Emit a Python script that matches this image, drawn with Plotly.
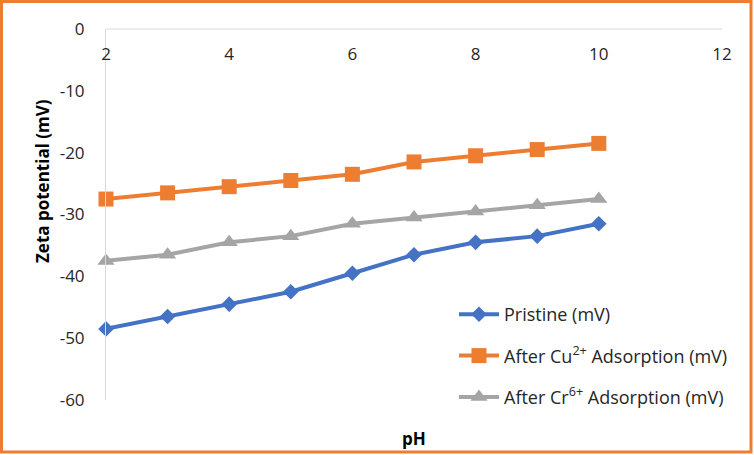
import plotly.graph_objects as go

ph = [2, 3, 4, 5, 6, 7, 8, 9, 10]
pristine = [-48.5, -46.5, -44.5, -42.5, -39.5, -36.5, -34.5, -33.5, -31.5]
cu = [-27.5, -26.5, -25.5, -24.5, -23.5, -21.5, -20.5, -19.5, -18.5]
cr = [-37.5, -36.5, -34.5, -33.5, -31.5, -30.5, -29.5, -28.5, -27.5]

x_ticks = [2, 4, 6, 8, 10, 12]
y_ticks = [0, -10, -20, -30, -40, -50, -60]
y_ticktext = ["0", "-10", "-20", "-30", "-40", "-50", "-60"]

names = ["Pristine (mV)", "After Cu<sup>2+</sup> Adsorption (mV)", "After Cr<sup>6+</sup> Adsorption (mV)"]
colors = ["#4472C4", "#ED7D31", "#A5A5A5"]
symbols = ["diamond", "square", "triangle-up"]
sizes = [12, 15, 15]
series = [pristine, cu, cr]

W, H = 754, 455
ml, mr, mt, mb = 106, 32, 29, 55
pw, ph_ = W - ml - mr, H - mt - mb

fig = go.Figure()
for i, (nm, ys) in enumerate(zip(names, series)):
    fig.add_trace(go.Scatter(
        x=ph, y=ys, name=nm, mode="lines+markers",
        line=dict(color=colors[i], width=4),
        marker=dict(symbol=symbols[i], size=sizes[i], color=colors[i]),
        cliponaxis=False, legendgroup=f"g{i}",
    ))

FAM = "Open Sans, sans-serif"
tick_font = dict(family=FAM, size=17, color="#262626")


def px_x(p):
    return (p - ml) / pw


def px_y(p):
    return (H - mb - p) / ph_


fig.update_layout(
    width=W, height=H,
    margin=dict(l=ml, r=mr, t=mt, b=mb),
    paper_bgcolor="white", plot_bgcolor="white",
    font=tick_font,
    showlegend=True,
    legend=dict(
        x=px_x(454), y=px_y(296), xanchor="left", yanchor="top",
        bgcolor="rgba(0,0,0,0)", itemwidth=40, tracegroupgap=15,
        font=dict(family=FAM, size=18, color="#262626"),
    ),
    xaxis=dict(
        range=[2, 12], tickvals=x_ticks, side="top",
        anchor="free", position=px_y(63),
        showgrid=False, zeroline=False, showline=False,
        ticks="", ticklabelstandoff=0, tickfont=tick_font,
    ),
    yaxis=dict(
        range=[-60, 0], tickvals=y_ticks, ticktext=y_ticktext,
        showgrid=False, zeroline=False, showline=True, linecolor="#D9D9D9", linewidth=1,
        ticks="", ticklabelstandoff=17, tickfont=tick_font,
    ),
    annotations=[
        dict(text="<b>Zeta potential (mV)</b>", x=px_x(42), y=px_y(181), xref="paper", yref="paper",
             xanchor="center", yanchor="middle",
             textangle=-90, showarrow=False, font=dict(family=FAM, size=17, color="#000")),
        dict(text="<b>pH</b>", x=px_x(414), y=px_y(438), xref="paper", yref="paper",
             xanchor="center", yanchor="middle",
             showarrow=False, font=dict(family=FAM, size=17, color="#000")),
    ],
    shapes=[
        dict(type="line", xref="paper", yref="paper", x0=0, x1=1, y0=1, y1=1,
             line=dict(color="#D9D9D9", width=1), layer="below"),
        dict(type="rect", xref="paper", yref="paper",
             x0=px_x(1.5), x1=px_x(751), y0=px_y(452), y1=px_y(1.5),
             line=dict(color="#ED7D31", width=3), fillcolor="rgba(0,0,0,0)", layer="above"),
    ],
)

fig.write_html("out.html")
